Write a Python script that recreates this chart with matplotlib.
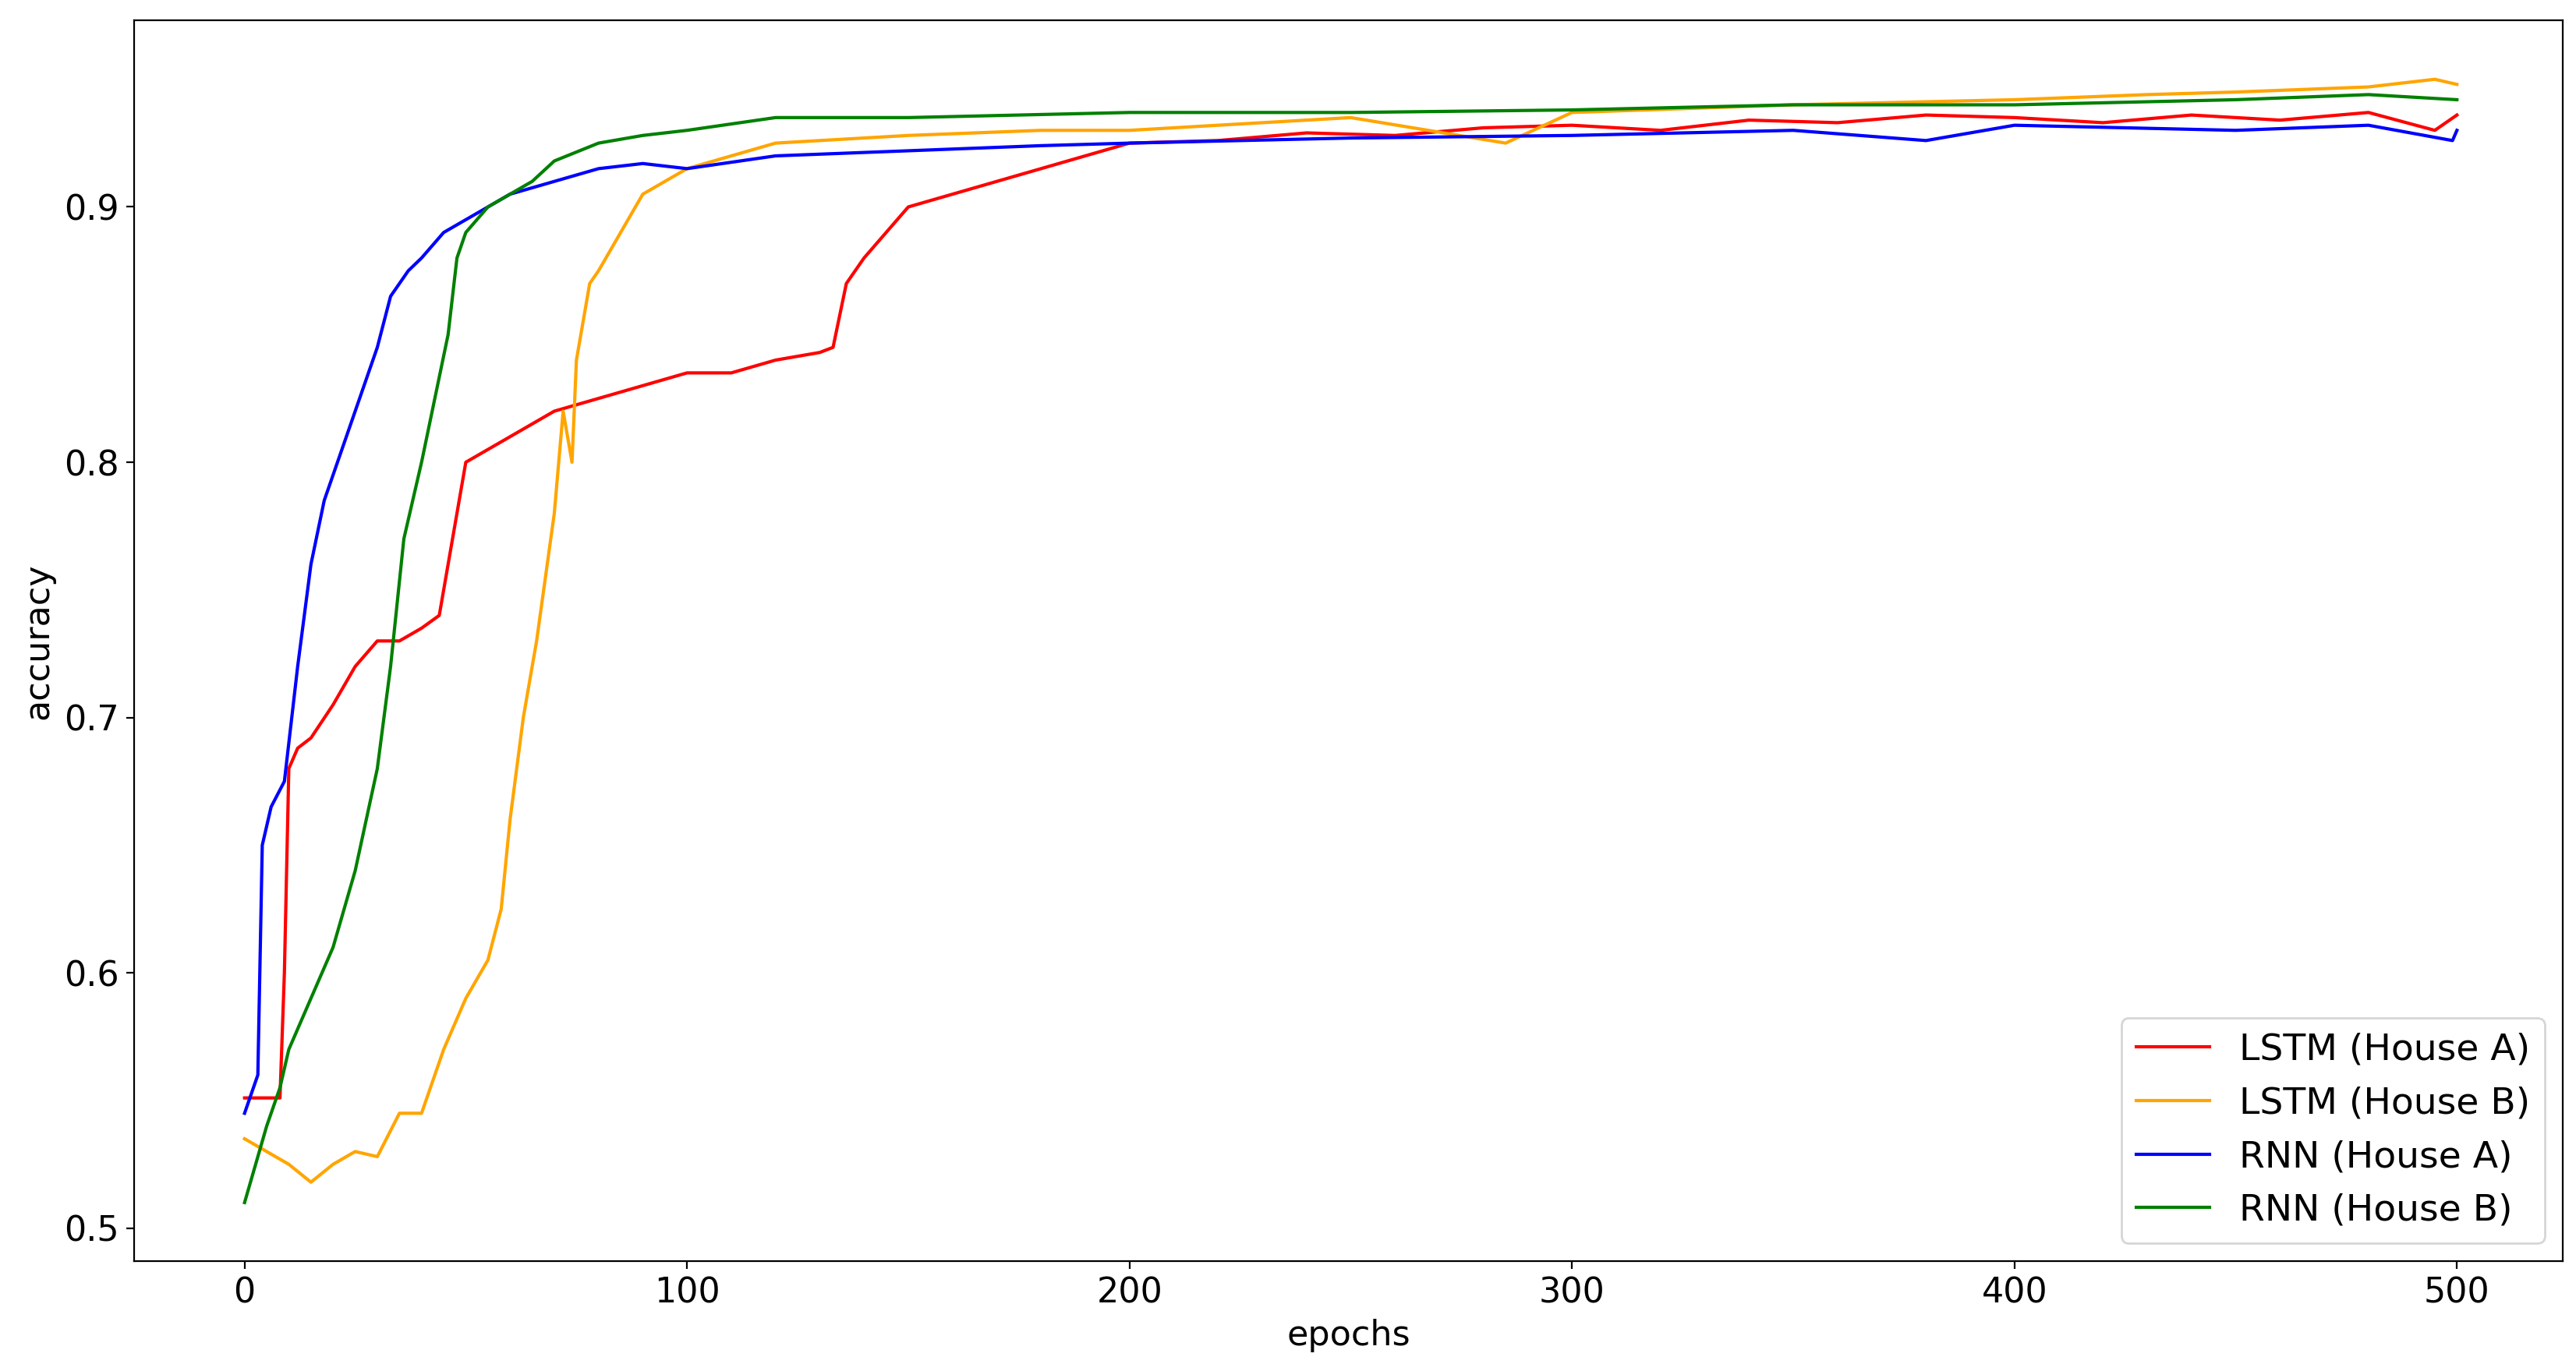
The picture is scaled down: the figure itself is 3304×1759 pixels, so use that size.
import matplotlib
matplotlib.use("Agg")
import matplotlib.pyplot as plt

# values (epoch, accuracy)
lstm_a_x = [0, 8, 9, 10, 12, 15, 20, 25, 30, 35, 40, 44, 47, 50, 55, 60, 65, 70, 80, 90, 100, 110, 120, 130, 133,
            136, 140, 145, 150, 160, 170, 180, 190, 200, 220, 240, 260, 280, 300, 320, 340, 360, 380, 400, 420,
            440, 460, 480, 495, 500]
lstm_a_y = [0.551, 0.551, 0.60, 0.68, 0.688, 0.692, 0.705, 0.72, 0.73, 0.73, 0.735, 0.74, 0.77, 0.80, 0.805, 0.81,
            0.815, 0.82, 0.825, 0.83, 0.835, 0.835, 0.84, 0.843, 0.845, 0.87, 0.88, 0.89, 0.90, 0.905, 0.91, 0.915,
            0.92, 0.925, 0.926, 0.929, 0.928, 0.931, 0.932, 0.930, 0.934, 0.933, 0.936, 0.935, 0.933, 0.936, 0.934,
            0.937, 0.930, 0.936]

lstm_b_x = [0, 5, 10, 15, 20, 25, 30, 35, 40, 45, 50, 55, 58, 60, 63, 66, 70, 72, 74, 75, 78, 80, 85, 90, 95, 100,
            110, 120, 150, 180, 200, 250, 285, 300, 350, 400, 430, 450, 480, 495, 500]
lstm_b_y = [0.535, 0.53, 0.525, 0.518, 0.525, 0.53, 0.528, 0.545, 0.545, 0.57, 0.59, 0.605, 0.625, 0.66, 0.70,
            0.73, 0.78, 0.82, 0.80, 0.84, 0.87, 0.875, 0.89, 0.905, 0.91, 0.915, 0.92, 0.925, 0.928, 0.93, 0.93,
            0.935, 0.925, 0.937, 0.94, 0.942, 0.944, 0.945, 0.947, 0.950, 0.948]

rnn_a_x = [0, 3, 4, 6, 9, 12, 15, 18, 21, 25, 30, 33, 37, 40, 45, 50, 60, 70, 80, 90, 100, 120, 150, 180, 200,
           250, 300, 350, 380, 400, 450, 480, 499, 500]
rnn_a_y = [0.545, 0.56, 0.65, 0.665, 0.675, 0.72, 0.76, 0.785, 0.80, 0.82, 0.845, 0.865, 0.875, 0.88, 0.89, 0.895,
           0.905, 0.91, 0.915, 0.917, 0.915, 0.92, 0.922, 0.924, 0.925, 0.927, 0.928, 0.930, 0.926, 0.932, 0.930,
           0.932, 0.926, 0.930]

rnn_b_x = [0, 5, 8, 10, 15, 20, 25, 30, 33, 36, 40, 43, 46, 48, 50, 55, 60, 65, 70, 80, 90, 100, 120, 150, 200,
           250, 300, 350, 400, 450, 480, 500]
rnn_b_y = [0.51, 0.54, 0.555, 0.57, 0.59, 0.61, 0.64, 0.68, 0.72, 0.77, 0.80, 0.825, 0.85, 0.88, 0.89, 0.90, 0.905,
           0.91, 0.918, 0.925, 0.928, 0.93, 0.935, 0.935, 0.937, 0.937, 0.938, 0.940, 0.940, 0.942, 0.944, 0.942]

fig, ax = plt.subplots(figsize=(16.52, 8.795), dpi=200)
ax.plot(lstm_a_x, lstm_a_y, color="red", lw=1.5, label="LSTM (House A)")
ax.plot(lstm_b_x, lstm_b_y, color="orange", lw=1.5, label="LSTM (House B)")
ax.plot(rnn_a_x, rnn_a_y, color="blue", lw=1.5, label="RNN (House A)")
ax.plot(rnn_b_x, rnn_b_y, color="green", lw=1.5, label="RNN (House B)")

ax.set_xlim(-25, 524)
ax.set_ylim(0.487, 0.973)
ax.set_xticks([0, 100, 200, 300, 400, 500])
ax.set_yticks([0.5, 0.6, 0.7, 0.8, 0.9])
ax.tick_params(labelsize=16)
ax.set_xlabel("epochs", fontsize=16)
ax.set_ylabel("accuracy", fontsize=16)
ax.legend(loc="lower right", fontsize=17)

plt.subplots_adjust(left=0.052, right=0.995, top=0.985, bottom=0.08)
plt.savefig("out.png", dpi=200)
